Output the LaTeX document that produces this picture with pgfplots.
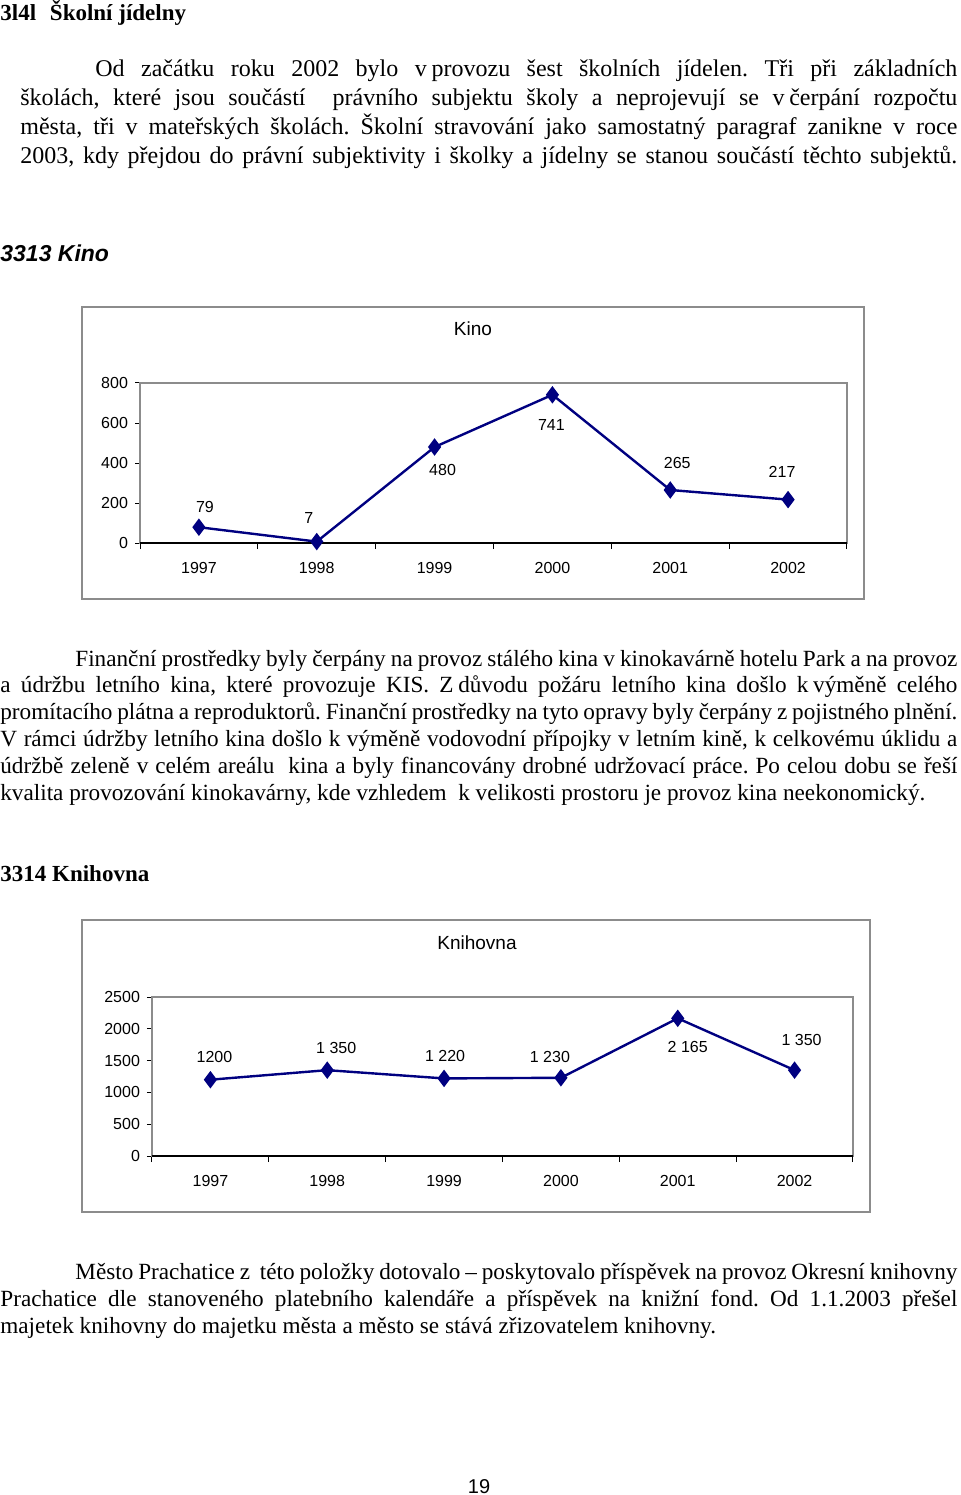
\documentclass[border=0pt]{standalone}
\usepackage{fontspec}
\setmainfont{Liberation Serif}
\newfontfamily\arial{Liberation Sans}
\usepackage{pgfplots}
\pgfplotsset{compat=1.18}
\definecolor{navy}{RGB}{0,0,128}
\definecolor{boxgray}{RGB}{140,140,140}
\newcommand{\ns}{\nobreak\hspace{0.2em}\nobreak}

\pgfplotstableread{
x y
0 79
1 7
2 480
3 741
4 265
5 217
}\kinodata
\pgfplotstableread{
x y
0 1200
1 1350
2 1220
3 1230
4 2165
5 1350
}\knihdata

\pgfplotsset{excelline/.style={
  scale only axis, clip=false,
  xmin=-0.5, xmax=5.5, ymin=0,
  xtick={0,1,2,3,4,5},
  xticklabels={1997,1998,1999,2000,2001,2002},
  minor xtick={-0.5,0.5,1.5,2.5,3.5,4.5,5.5},
  major x tick style={draw=none},
  minor x tick style={black, line width=0.5pt},
  minor tick length=3pt,
  major tick length=2.5pt,
  tick align=outside,
  xtick pos=bottom, ytick pos=left,
  axis line style={boxgray, line width=0.6pt},
  ytick style={black, line width=0.5pt},
  /pgf/number format/assume math mode=true,
  /pgf/number format/1000 sep={},
  ticklabel style={font=\arial\fontsize{8}{9}\selectfont},
  xticklabel style={yshift=-3.8pt},
  yticklabel style={xshift=0pt},
}}

\begin{document}
\frenchspacing
\begin{tikzpicture}
\begin{scope}[x=0.5pt,y=-0.5pt]
\path[use as bounding box] (0,0) rectangle (960,1495);

% headings
\node[anchor=base west, inner sep=0, font=\bfseries\fontsize{11.5}{13}\selectfont] at (0,20) {3l4l\hspace{0.6em}Školní jídelny};
\node[anchor=base west, inner sep=0, font=\arial\bfseries\itshape\fontsize{11.5}{13}\selectfont] at (0,261) {3313 Kino};
\node[anchor=base west, inner sep=0, font=\bfseries\fontsize{11.5}{13}\selectfont] at (0,881) {3314 Knihovna};

% paragraph 1
\node[anchor=base west, inner sep=0] at (20,76) {\parbox[t]{468.5pt}{\frenchspacing\fontsize{12}{14.5}\selectfont\parfillskip=0pt
\hspace*{37.5pt}Od začátku roku 2002 bylo v\ns provozu šest školních jídelen. Tři při základních \linebreak
školách, které jsou součástí\ \ právního subjektu školy a neprojevují se v\ns čerpání rozpočtu \linebreak
města, tři v mateřských školách. Školní stravování jako samostatný paragraf zanikne v~roce \linebreak
2003, kdy přejdou do právní subjektivity i~školky a jídelny se stanou součástí těchto subjektů.\par}};

% paragraph 2
\node[anchor=base west, inner sep=0] at (0,666) {\parbox[t]{478.5pt}{\frenchspacing\fontsize{11.6}{13.4}\selectfont
\hspace*{37.5pt}Finanční prostředky byly čerpány na provoz stálého kina v~kinokavárně hotelu Park a na provoz \linebreak
a údržbu letního kina, které provozuje KIS. Z\ns důvodu požáru letního kina došlo k\ns výměně celého \linebreak
promítacího plátna a reproduktorů. Finanční prostředky na tyto opravy byly čerpány z~pojistného plnění. \linebreak
V rámci údržby letního kina došlo k~výměně vodovodní přípojky v~letním kině, k~celkovému úklidu a \linebreak
údržbě zeleně v~celém areálu\ \ kina a byly financovány drobné udržovací práce. Po celou dobu se řeší \linebreak
kvalita provozování kinokavárny, kde vzhledem\ \ k~velikosti prostoru je provoz kina neekonomický.\par}};

% paragraph 3
\node[anchor=base west, inner sep=0] at (0,1279) {\parbox[t]{478.5pt}{\frenchspacing\fontsize{11.6}{13.5}\selectfont
\hspace*{37.5pt}Město Prachatice z\ \ této položky dotovalo – poskytovalo příspěvek na provoz Okresní knihovny \linebreak
Prachatice dle stanoveného platebního kalendáře a příspěvek na knižní fond. Od 1.1.2003 přešel \linebreak
majetek knihovny do majetku města a město se stává zřizovatelem knihovny.\par}};

% page number
\node[anchor=base, inner sep=0, font=\arial\fontsize{10}{12}\selectfont] at (479,1493) {19};

% chart boxes
\draw[boxgray, line width=0.6pt] (82,307) rectangle (864,599);
\draw[boxgray, line width=0.6pt] (82,920) rectangle (870,1212);
\node[font=\arial\fontsize{9.5}{11}\selectfont] at (473,329) {Kino};
\node[font=\arial\fontsize{9.5}{11}\selectfont] at (477,943) {Knihovna};
\end{scope}

% Kino chart
\begin{axis}[excelline, at={(70pt,-271.5pt)}, anchor=south west,
  width=353.5pt, height=80pt, ymax=800, ytick={0,200,400,600,800}]
\addplot[navy, line width=1.2pt, mark=diamond*, mark size=3.4pt, mark options={fill=navy}] table[x=x,y=y] {\kinodata};
\draw[black, line width=0.8pt] (axis cs:-0.5,0) -- (axis cs:5.5,0);
\begin{scope}[font=\arial\fontsize{8}{9}\selectfont]
\node[xshift=3pt, yshift=10pt] at (axis cs:0,79) {79};
\node[xshift=-4pt, yshift=12pt] at (axis cs:1,7) {7};
\node[xshift=4pt, yshift=-11.5pt] at (axis cs:2,480) {480};
\node[xshift=-0.5pt, yshift=-15pt] at (axis cs:3,741) {741};
\node[xshift=3.5pt, yshift=13.5pt] at (axis cs:4,265) {265};
\node[xshift=-3pt, yshift=14pt] at (axis cs:5,217) {217};
\end{scope}
\end{axis}

% Knihovna chart
\begin{axis}[excelline, at={(76pt,-578pt)}, anchor=south west,
  width=350.5pt, height=79.5pt, ymax=2500, ytick={0,500,1000,1500,2000,2500}]
\addplot[navy, line width=1.2pt, mark=diamond*, mark size=3.4pt, mark options={fill=navy}] table[x=x,y=y] {\knihdata};
\draw[black, line width=0.8pt] (axis cs:-0.5,0) -- (axis cs:5.5,0);
\begin{scope}[font=\arial\fontsize{8}{9}\selectfont]
\node[xshift=2pt, yshift=11.5pt] at (axis cs:0,1200) {1200};
\node[xshift=4.5pt, yshift=11pt] at (axis cs:1,1350) {1 350};
\node[xshift=0.5pt, yshift=11pt] at (axis cs:2,1220) {1 220};
\node[xshift=-5.5pt, yshift=10.5pt] at (axis cs:3,1230) {1 230};
\node[xshift=5pt, yshift=-14.5pt] at (axis cs:4,2165) {2 165};
\node[xshift=3.5pt, yshift=15pt] at (axis cs:5,1350) {1 350};
\end{scope}
\end{axis}
\end{tikzpicture}
\end{document}
